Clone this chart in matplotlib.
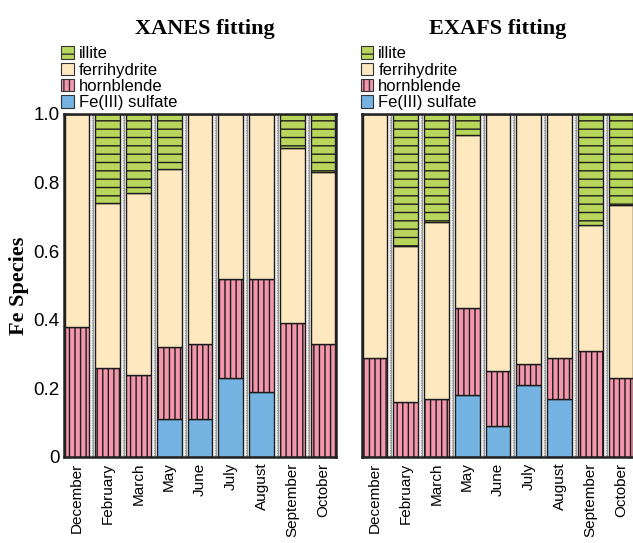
import numpy as np
import matplotlib
matplotlib.use('Agg')
import matplotlib.pyplot as plt
from matplotlib.patches import Patch
from matplotlib.ticker import MultipleLocator

# month labels, same for both panels
months = ['December', 'February', 'March', 'May', 'June', 'July', 'August', 'September', 'October']

# XANES fitting fractions
xanes_sulfate = [0.0, 0.0, 0.0, 0.11, 0.11, 0.23, 0.19, 0.0, 0.0]
xanes_hornblende = [0.38, 0.26, 0.24, 0.21, 0.22, 0.29, 0.33, 0.39, 0.33]
xanes_ferrihydrite = [0.62, 0.48, 0.53, 0.52, 0.67, 0.48, 0.48, 0.51, 0.50]
xanes_illite = [0.0, 0.26, 0.23, 0.16, 0.0, 0.0, 0.0, 0.10, 0.17]

# EXAFS fitting fractions
exafs_sulfate = [0.0, 0.0, 0.0, 0.18, 0.09, 0.21, 0.17, 0.0, 0.0]
exafs_hornblende = [0.29, 0.16, 0.17, 0.255, 0.16, 0.06, 0.12, 0.31, 0.23]
exafs_ferrihydrite = [0.71, 0.455, 0.515, 0.505, 0.75, 0.73, 0.71, 0.365, 0.505]
exafs_illite = [0.0, 0.385, 0.315, 0.06, 0.0, 0.0, 0.0, 0.325, 0.265]

species = ['illite', 'ferrihydrite', 'hornblende', 'Fe(III) sulfate']
colors = {'illite': '#b8d55c', 'ferrihydrite': '#fde8c0',
          'hornblende': '#f497ad', 'Fe(III) sulfate': '#74b3e2'}
hatches = {'illite': '--', 'ferrihydrite': None,
           'hornblende': '|||', 'Fe(III) sulfate': None}

plt.rcParams['hatch.linewidth'] = 1.0
sans = 'Liberation Sans'
serif = 'Liberation Serif'

fig = plt.figure(figsize=(6.33, 5.43), dpi=100)
ax1 = fig.add_axes([0.1011, 0.1584, 0.4297, 0.6317])
ax2 = fig.add_axes([0.5719, 0.1584, 0.4297, 0.6317])


def draw(ax, sulfate, horn, ferri, illite):
    x = np.arange(len(months))
    w = 0.8
    edge = '#1a1a1a'
    for k in range(len(months) - 1):
        ax.axvline(k + 0.5, color='#9a9a9a', lw=2.2, zorder=0)
        ax.axvline(k + 0.5, color='white', lw=1.2, zorder=0)
        ax.axvline(k + 0.5, color='#808080', lw=0.6, ls=(0, (1, 1)), zorder=0)
    b = np.zeros(len(months))
    for name, vals in [('Fe(III) sulfate', sulfate), ('hornblende', horn),
                       ('ferrihydrite', ferri), ('illite', illite)]:
        vals = np.array(vals)
        ax.bar(x, vals, w, bottom=b, color=colors[name], edgecolor=edge,
               linewidth=1.0, hatch=hatches[name], zorder=2)
        b = b + vals
    ax.set_xlim(-0.42, len(months) - 0.58)
    ax.set_ylim(0, 1.0)
    ax.set_xticks(x)
    ax.set_xticklabels(months, rotation=90, fontsize=11, family=sans)
    ax.yaxis.set_major_locator(MultipleLocator(0.2))
    ax.yaxis.set_minor_locator(MultipleLocator(0.05))
    ax.tick_params(axis='both', which='both', direction='in', top=True, right=True)
    ax.tick_params(axis='y', which='major', length=5, width=1)
    ax.tick_params(axis='y', which='minor', length=3, width=0.8)
    ax.tick_params(axis='x', length=3, pad=4)
    for s in ax.spines.values():
        s.set_linewidth(1.8)
        s.set_color('#222222')


draw(ax1, xanes_sulfate, xanes_hornblende, xanes_ferrihydrite, xanes_illite)
draw(ax2, exafs_sulfate, exafs_hornblende, exafs_ferrihydrite, exafs_illite)

ax1.set_yticks([0, 0.2, 0.4, 0.6, 0.8, 1.0])
ax1.set_yticklabels(['0', '0.2', '0.4', '0.6', '0.8', '1.0'], fontsize=13.5, family=sans)
ax1.tick_params(axis='y', pad=3)
ax2.set_yticklabels([])
ax1.set_ylabel('Fe Species', fontsize=16, family=serif, fontweight='bold', labelpad=3)

handles = [Patch(facecolor=colors[s], edgecolor='#333333', hatch=hatches[s], lw=0.8) for s in species]
for ax, xpos in [(ax1, 0.097), (ax2, 0.570)]:
    fig.legend(handles, species, loc='lower left', bbox_to_anchor=(xpos, 0.797),
               frameon=False, prop={'family': sans, 'size': 12},
               handlelength=0.75, handleheight=0.75, handletextpad=0.3,
               labelspacing=0.08, borderaxespad=0, borderpad=0)

fig.text(0.323, 0.947, 'XANES fitting', ha='center', va='center',
         fontsize=16, family=serif, fontweight='bold')
fig.text(0.787, 0.947, 'EXAFS fitting', ha='center', va='center',
         fontsize=16, family=serif, fontweight='bold')

fig.savefig('out.png', dpi=100)
